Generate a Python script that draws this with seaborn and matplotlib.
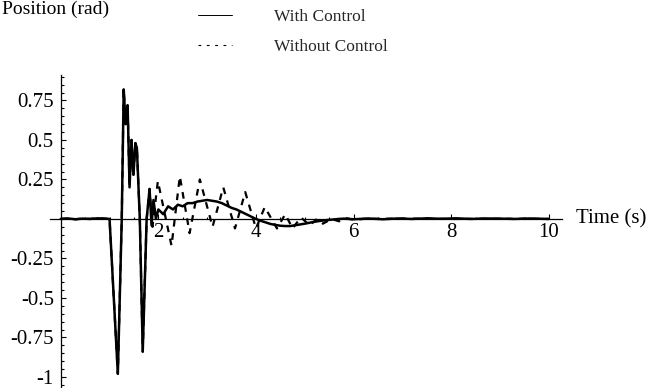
import numpy as np
import pandas as pd
import matplotlib
matplotlib.use("Agg")
import matplotlib.pyplot as plt
from matplotlib.lines import Line2D
from matplotlib.ticker import FixedLocator, FixedFormatter, MultipleLocator
import seaborn as sns

# Response with the controller active (time in s, position in rad)
t_ctrl = [0.0, 0.15, 0.3, 0.45, 0.6, 0.75, 0.9, 1.0, 1.17, 1.25, 1.29, 1.33, 1.37,
          1.41, 1.45, 1.49, 1.53, 1.56, 1.62, 1.68, 1.76, 1.82, 1.86, 1.9, 1.95,
          2.0, 2.1, 2.2, 2.3, 2.4, 2.5, 2.6, 2.7, 2.8, 2.9, 3.0, 3.1, 3.2, 3.3,
          3.4, 3.5, 3.6, 3.7, 3.8, 3.9, 4.0, 4.1, 4.2, 4.3, 4.4, 4.5, 4.6, 4.7,
          4.8, 4.9, 5.0, 5.1, 5.2, 5.3, 5.4, 5.5, 5.6, 5.7, 5.8, 6.0, 6.3, 6.6,
          6.9, 7.2, 7.5, 7.8, 8.1, 8.4, 8.7, 9.0, 9.3, 9.6, 10.0]
pos_ctrl = [0.0, 0.003, -0.002, 0.002, 0.0, 0.004, 0.002, 0.0, -0.98, 0.0, 0.82,
            0.6, 0.72, 0.2, 0.5, 0.28, 0.48, 0.45, 0.0, -0.84, 0.0, 0.19, -0.04,
            0.12, 0.0, 0.06, 0.03, 0.08, 0.06, 0.09, 0.08, 0.10, 0.10, 0.11,
            0.115, 0.12, 0.115, 0.11, 0.10, 0.085, 0.07, 0.06, 0.045, 0.03,
            0.015, 0.0, -0.012, -0.022, -0.032, -0.038, -0.043, -0.045, -0.045,
            -0.04, -0.035, -0.03, -0.024, -0.018, -0.013, -0.009, -0.006, -0.003,
            0.0, 0.002, -0.002, 0.003, -0.002, 0.003, 0.0, 0.004, 0.001, 0.004,
            0.0, 0.003, 0.002, 0.0, 0.003, 0.0]

# Response without the controller
t_free = [0.0, 0.15, 0.3, 0.45, 0.6, 0.75, 0.9, 1.0, 1.17, 1.25, 1.29, 1.33, 1.37,
          1.41, 1.45, 1.49, 1.53, 1.56, 1.62, 1.68, 1.76, 1.82, 1.88, 1.99, 2.27,
          2.44, 2.64, 2.85, 3.11, 3.33, 3.57, 3.78, 4.0, 4.18, 4.43, 4.6, 4.75,
          4.92, 5.1, 5.25, 5.37, 5.55, 5.7, 5.85, 6.0, 6.2, 7.0, 8.0, 9.0, 10.0]
pos_free = [0.0, 0.003, -0.002, 0.002, 0.0, 0.004, 0.002, 0.0, -0.98, 0.0, 0.82,
            0.6, 0.72, 0.2, 0.5, 0.28, 0.48, 0.45, 0.0, -0.84, 0.0, 0.19, -0.05,
            0.24, -0.17, 0.27, -0.09, 0.25, -0.05, 0.2, -0.06, 0.17, -0.06, 0.075,
            -0.06, 0.03, -0.06, 0.01, -0.04, 0.0, -0.03, 0.0, -0.015, 0.005,
            -0.005, 0.0, 0.002, 0.0, 0.001, 0.0]

x_ticks = [2, 4, 6, 8, 10]
x_tick_labels = ["2", "4", "6", "8", "10"]
y_ticks = [0.75, 0.5, 0.25, -0.25, -0.5, -0.75, -1.0]
y_tick_labels = ["0.75", "0.5", "0.25", "-0.25", "-0.5", "-0.75", "-1"]
series_labels = ["With Control", "Without Control"]

df_ctrl = pd.DataFrame({"t": t_ctrl, "pos": pos_ctrl})
df_free = pd.DataFrame({"t": t_free, "pos": pos_free})

sns.set_theme(style="white")
plt.rcParams["font.family"] = ["Liberation Serif", "DejaVu Serif"]

fig = plt.figure(figsize=(6.5, 3.88), dpi=100)
ax = fig.add_axes([50 / 650, 0.0, 512 / 650, 313 / 388])

sns.lineplot(data=df_free, x="t", y="pos", ax=ax, color="black", lw=1.6,
             estimator=None, sort=False, dashes=False, linestyle=(0, (3.0, 3.0)))
sns.lineplot(data=df_ctrl, x="t", y="pos", ax=ax, color="black", lw=1.8,
             estimator=None, sort=False)

ax.set_xlim(-0.22, 10.27)
ax.set_ylim(-1.070, 0.911)

# Axes crossing at the origin
for side in ("top", "right"):
    ax.spines[side].set_visible(False)
ax.spines["left"].set_position(("data", 0))
ax.spines["bottom"].set_position(("data", 0))
for side in ("left", "bottom"):
    ax.spines[side].set_color("black")
    ax.spines[side].set_linewidth(0.9)

ax.xaxis.set_major_locator(FixedLocator(x_ticks))
ax.xaxis.set_major_formatter(FixedFormatter(x_tick_labels))
ax.xaxis.set_minor_locator(MultipleLocator(0.5))
ax.yaxis.set_major_locator(FixedLocator(y_ticks))
ax.yaxis.set_major_formatter(FixedFormatter(y_tick_labels))
ax.yaxis.set_minor_locator(MultipleLocator(0.05))
ax.tick_params(which="both", direction="in", color="black", width=0.8,
               bottom=True, left=True, labelsize=15, labelcolor="black")
ax.tick_params(which="major", length=3.5)
ax.tick_params(which="minor", length=1.8)
ax.tick_params(axis="x", pad=3)
ax.tick_params(axis="y", pad=5)
ax.set_xlabel("")
ax.set_ylabel("")

ax.text(10.55, 0.0, "Time (s)", fontsize=15, va="center", ha="left",
        color="black", clip_on=False)
fig.text(2 / 650, 1 - 9 / 388, "Position (rad)", fontsize=14, va="center",
         ha="left", color="black")

handles = [Line2D([], [], color="black", lw=0.7),
           Line2D([], [], color="black", lw=0.8, linestyle=(0, (2.5, 5)))]
fig.legend(handles, series_labels, loc="upper left",
           bbox_to_anchor=(198 / 650, 1 - 9 / 388), frameon=False,
           fontsize=12.5, handlelength=1.95, handletextpad=2.45,
           labelspacing=0.78, borderpad=0, borderaxespad=0)

fig.savefig("out.png", dpi=100, facecolor="white")
